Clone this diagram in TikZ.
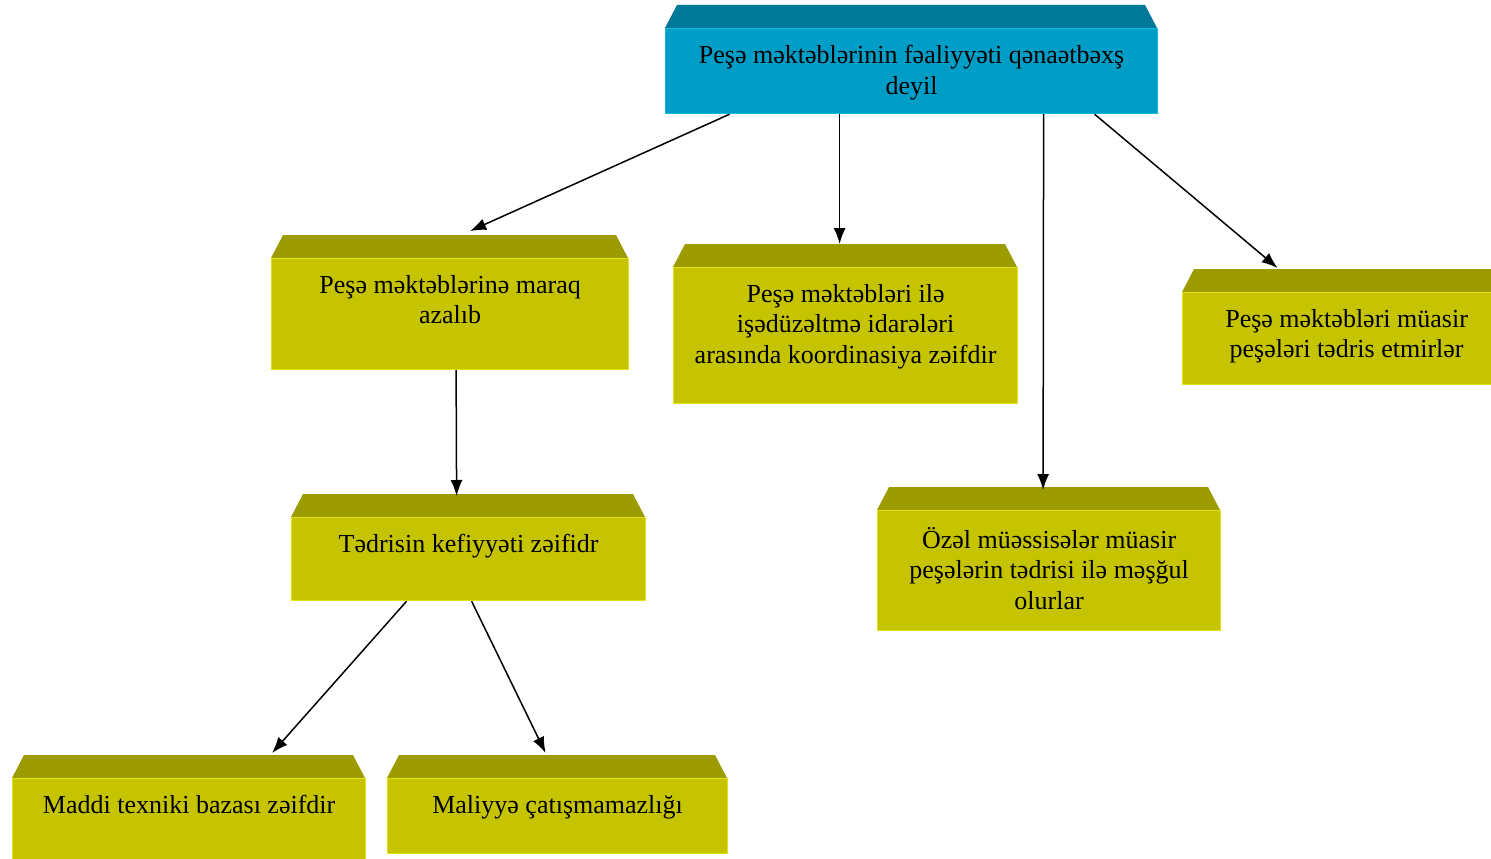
\documentclass[tikz,border=0pt]{standalone}
\usepackage{fontspec}
\setmainfont{Liberation Serif}
\usetikzlibrary{calc,arrows.meta}
\definecolor{olfront}{RGB}{198,196,0}
\definecolor{oltop}{RGB}{156,156,0}
\definecolor{oledge}{RGB}{226,226,20}
\definecolor{blfront}{RGB}{0,157,199}
\definecolor{bltop}{RGB}{0,120,152}
\definecolor{bledge}{RGB}{20,185,225}
\tikzset{
  txt/.style={font=\fontsize{26}{30.5}\selectfont, align=center, inner sep=0pt, text=black},
  conn/.style={line width=1.5pt, -{Latex[length=16pt,width=12pt]}},
}
% name, x1, y1, x2, y2, text, front, top, edge
\newcommand\bevbox[9]{%
  \fill[#8] (#2+12,#3-23) -- (#4-12,#3-23) -- (#4,#3) -- (#2,#3) -- cycle;
  \node[fill=#7, draw=#9, line width=1.2pt, anchor=north west, inner sep=0pt,
        minimum width={(#4-#2)*1pt}, minimum height={(#5-#3)*1pt}] (#1) at (#2,#3) {};
  \coordinate (#1t) at ($(#1.north)+(0,-23)$);
  \node[txt, anchor=north] (#1x) at ($(#1.north)+(0,17)$) {#6};
}
\begin{document}
\begin{tikzpicture}[x=1pt,y=-1pt]
\useasboundingbox (0,0) rectangle (1491,859);
\clip (0,0) rectangle (1491,859);
\bevbox{top}{665}{28}{1157}{113}{Peşə məktəblərinin fəaliyyəti qənaətbəxş\\deyil}{blfront}{bltop}{bledge}
\bevbox{b1}{271}{258}{628}{369}{Peşə məktəblərinə maraq\\azalıb}{olfront}{oltop}{oledge}
\bevbox{b2}{673}{267}{1017}{403}{Peşə məktəbləri ilə\\işədüzəltmə idarələri\\arasında koordinasiya zəifdir}{olfront}{oltop}{oledge}
\bevbox{b3}{1182}{292}{1510}{384}{Peşə məktəbləri müasir\\peşələri tədris etmirlər}{olfront}{oltop}{oledge}
\bevbox{b4}{291}{517}{645}{600}{Tədrisin kefiyyəti zəifidr}{olfront}{oltop}{oledge}
\bevbox{b5}{877}{510}{1220}{630}{Özəl müəssisələr müasir\\peşələrin tədrisi ilə məşğul\\olurlar}{olfront}{oltop}{oledge}
\bevbox{b6}{12}{778}{365}{880}{Maddi texniki bazası zəifdir}{olfront}{oltop}{oledge}
\bevbox{b7}{387}{778}{727}{853}{Maliyyə çatışmamazlığı}{olfront}{oltop}{oledge}
\draw[conn] ([xshift=-182pt]top.south) -- ([xshift=20pt,yshift=4pt]b1t);
\draw[conn] ([xshift=-72pt]top.south) -- ([xshift=-6pt]b2t);
\draw[conn] ([xshift=132pt]top.south) -- ([xshift=-6pt,yshift=-3pt]b5t);
\draw[conn] ([xshift=183pt]top.south) -- ([xshift=-69pt,yshift=1pt]b3t);
\draw[conn] ([xshift=6pt]b1.south) -- ([xshift=-12pt,yshift=-2pt]b4t);
\draw[conn] ([xshift=-62pt]b4.south) -- ([xshift=83pt,yshift=2pt]b6t);
\draw[conn] ([xshift=3pt]b4.south) -- ([xshift=-12pt,yshift=2pt]b7t);
\end{tikzpicture}
\end{document}
